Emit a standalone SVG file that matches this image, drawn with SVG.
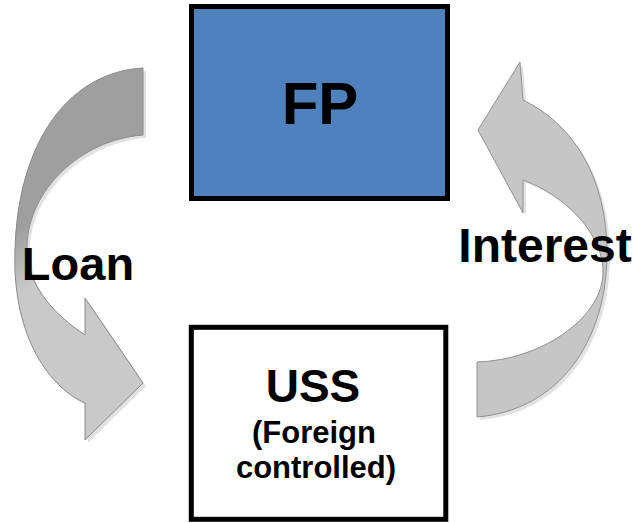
<svg xmlns="http://www.w3.org/2000/svg" width="636" height="523" viewBox="0 0 636 523">
  <defs>
    <linearGradient id="gLoan" gradientUnits="userSpaceOnUse" x1="0" y1="240" x2="25" y2="290">
      <stop offset="0" stop-color="#9f9f9f"/>
      <stop offset="1" stop-color="#c9c9c9"/>
    </linearGradient>
    <linearGradient id="gInt" gradientUnits="userSpaceOnUse" x1="0" y1="265" x2="-20" y2="310">
      <stop offset="0" stop-color="#c6c6c6"/>
      <stop offset="1" stop-color="#9f9f9f"/>
    </linearGradient>
    <path id="loanShape" d="M143,68 C70,72 18,140 15,250 C12,330 45,385 85,403 L85,440 L143,383 L85,298 L85,335 C55,315 25,285 27,245 C29,190 80,140 143,135 Z"/>
    <path id="intShape" d="M478,130 L520,62 L523,100 C575,125 607,180 607,253 C607,340 560,410 477,417 L477,362 C540,360 600,320 603,275 C605,235 565,195 523,180 L523,213 Z"/>
  </defs>
  <style>
    .lbl { font-family: "Liberation Sans", Arial, sans-serif; font-weight: bold; fill: #000; text-anchor: middle; }
    .box { stroke: #000; stroke-width: 5; }
    .shadow { fill: #e2e2e2; }
  </style>
  <g id="connectors">
    <g id="loan-arrow">
      <use href="#loanShape" class="shadow" transform="translate(3,3)"/>
      <use href="#loanShape" fill="url(#gLoan)" stroke="#8a8a8a" stroke-width="1"/>
    </g>
    <g id="interest-arrow">
      <use href="#intShape" class="shadow" transform="translate(3,3)"/>
      <use href="#intShape" fill="url(#gInt)" stroke="#8f8f8f" stroke-width="1"/>
    </g>
  </g>
  <g id="label-loan">
    <text class="lbl" x="78" y="280" font-size="47">Loan</text>
  </g>
  <g id="label-interest">
    <text class="lbl" x="545" y="262" font-size="48">Interest</text>
  </g>
  <g id="node-fp">
    <rect class="box" x="191.5" y="6.5" width="256" height="192" fill="#4f81bd"/>
    <text class="lbl" x="320" y="124" font-size="60">FP</text>
  </g>
  <g id="node-uss">
    <rect class="box" x="191.3" y="327.3" width="254.5" height="192" fill="#ffffff"/>
    <text class="lbl" x="313" y="402" font-size="46">USS</text>
    <text class="lbl" x="314" y="443" font-size="31">(Foreign</text>
    <text class="lbl" x="316" y="478" font-size="31">controlled)</text>
  </g>
</svg>
